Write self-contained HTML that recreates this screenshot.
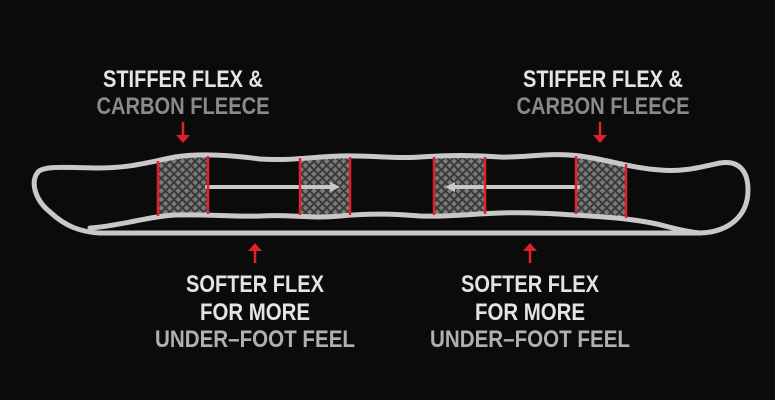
<!DOCTYPE html>
<html><head><style>
html,body{margin:0;padding:0;background:#0b0b0b;}
svg{display:block;}
text{font-family:"Liberation Sans Narrow","Liberation Sans",sans-serif;font-weight:bold;font-size:24px;}
</style></head><body>
<svg width="775" height="400" viewBox="0 0 775 400" xmlns="http://www.w3.org/2000/svg">
<defs>
<pattern id="h" width="6" height="6" patternUnits="userSpaceOnUse" patternTransform="rotate(45)">
<rect width="6" height="6" fill="#3a3a3a"/>
<rect x="1" y="1" width="4" height="4" fill="#7a7a7a"/>
</pattern>
</defs>
<rect width="775" height="400" fill="#0b0b0b"/>
<path d="M158 160 C175 158 190 155 208 155 L208 214 C190 213 175 215 158 216 Z" fill="url(#h)"/>
<rect x="300" y="157" width="50" height="58" fill="url(#h)"/>
<rect x="434" y="157" width="51" height="58" fill="url(#h)"/>
<path d="M576 156 C595 157 610 160 626 164 L626 218 C610 216 595 215 576 214 Z" fill="url(#h)"/>
<g fill="none" stroke="#c8c8c8" stroke-width="5" stroke-linecap="round">
<path d="M100 233 L700 233 C730 232 748 215 748 190 C748 170 738 160 720 163 C700 167 685 172 660 170 C630 168 610 160 580 156 C550 152 525 158 500 157 C470 155 450 155 420 157 C395 159 370 155 340 156 C310 157 290 161 260 159 C230 155 200 153 175 157 C150 162 130 168 100 168 C70 168 45 165 38 172 C30 182 35 200 50 212 C65 226 80 232 100 233"/>
<path d="M90 228 C120 226 150 216 175 215 C210 214 230 217 260 216 C290 214 310 219 340 216 C370 213 395 214 420 216 C450 217 470 214 500 213 C530 212 560 214 590 216 C625 218 650 222 665 226 C680 230 690 232 700 233"/>
</g>
<g stroke="#c8c8c8" stroke-width="4">
<path d="M205 187 L335 187"/>
<path d="M450 187 L580 187"/>
</g>
<path d="M330 182 L340 187 L330 192 Z" fill="#c8c8c8"/>
<path d="M455 182 L445 187 L455 192 Z" fill="#c8c8c8"/>
<g stroke="#e0202e" stroke-width="2.5">
<line x1="158" y1="161" x2="158" y2="216"/><line x1="208" y1="156" x2="208" y2="214"/>
<line x1="300" y1="158" x2="300" y2="215"/><line x1="350" y1="157" x2="350" y2="215"/>
<line x1="434" y1="157" x2="434" y2="215"/><line x1="485" y1="157" x2="485" y2="214"/>
<line x1="576" y1="156" x2="576" y2="214"/><line x1="626" y1="164" x2="626" y2="218"/>
</g>
<g fill="#e0202e" stroke="#e0202e" stroke-width="2.5">
<line x1="183" y1="122" x2="183" y2="136"/><path d="M176 135 L190 135 L183 143 Z" stroke="none"/>
<line x1="600" y1="122" x2="600" y2="136"/><path d="M593 135 L607 135 L600 143 Z" stroke="none"/>
<line x1="255" y1="250" x2="255" y2="263"/><path d="M248 251 L262 251 L255 243 Z" stroke="none"/>
<line x1="530" y1="250" x2="530" y2="263"/><path d="M523 251 L537 251 L530 243 Z" stroke="none"/>
</g>
<g text-anchor="middle">
<text x="183" y="87" fill="#e4e4e4" textLength="160" lengthAdjust="spacingAndGlyphs">STIFFER FLEX &amp;</text>
<text x="183" y="114" fill="#8a8a8a" textLength="173" lengthAdjust="spacingAndGlyphs">CARBON FLEECE</text>
<text x="603" y="87" fill="#e4e4e4" textLength="160" lengthAdjust="spacingAndGlyphs">STIFFER FLEX &amp;</text>
<text x="603" y="114" fill="#8a8a8a" textLength="173" lengthAdjust="spacingAndGlyphs">CARBON FLEECE</text>
<text x="255" y="292" fill="#e4e4e4" textLength="138" lengthAdjust="spacingAndGlyphs">SOFTER FLEX</text>
<text x="255" y="320" fill="#e4e4e4" textLength="110" lengthAdjust="spacingAndGlyphs">FOR MORE</text>
<text x="255" y="347" fill="#b0b0b0" textLength="200" lengthAdjust="spacingAndGlyphs">UNDER–FOOT FEEL</text>
<text x="530" y="292" fill="#e4e4e4" textLength="138" lengthAdjust="spacingAndGlyphs">SOFTER FLEX</text>
<text x="530" y="320" fill="#e4e4e4" textLength="110" lengthAdjust="spacingAndGlyphs">FOR MORE</text>
<text x="530" y="347" fill="#b0b0b0" textLength="200" lengthAdjust="spacingAndGlyphs">UNDER–FOOT FEEL</text>
</g>
</svg>
</body></html>
